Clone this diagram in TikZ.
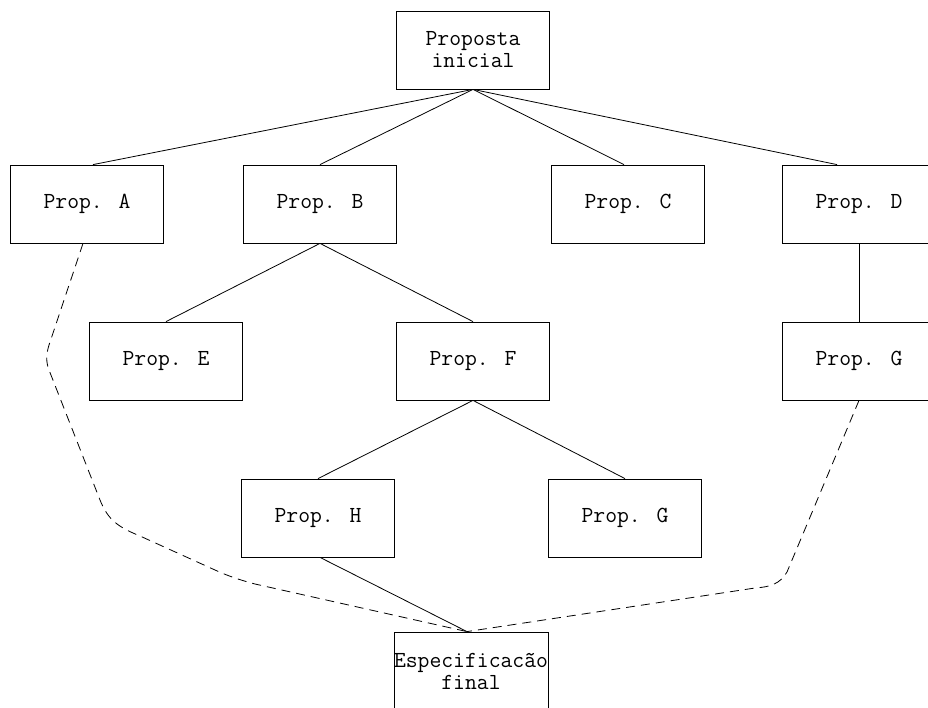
\documentclass[tikz,border=0pt]{standalone}
\usetikzlibrary{calc}
\begin{document}
\begin{tikzpicture}[x=1pt,y=-1pt,
  propbox/.style={draw,line width=0.8pt,minimum width=153pt,minimum height=78pt,
    inner sep=0pt,align=center,font=\ttfamily\fontsize{23}{22}\selectfont},
  link/.style={line width=0.8pt},
  alt/.style={line width=0.8pt,dash pattern=on 9pt off 6pt}]
\useasboundingbox (0,0) rectangle (928,708);
\clip (0,0) rectangle (928,708);
\fill[white] (0,0) rectangle (928,708);

% proposals
\node[propbox] (top) at (473,50) {Proposta\\inicial};
\node[propbox] (A) at (87,204) {Prop. A};
\node[propbox] (B) at (320,204) {Prop. B};
\node[propbox] (C) at (628,204) {Prop. C};
\node[propbox] (D) at (859,204) {Prop. D};
\node[propbox] (E) at (166,361) {Prop. E};
\node[propbox] (F) at (473,361) {Prop. F};
\node[propbox] (G1) at (859,361) {Prop. G};
\node[propbox] (H) at (318,518) {Prop. H};
\node[propbox] (G2) at (625,518) {Prop. G};
\node[propbox] (S) at (471,671) {Especificacão\\final};

% derivation tree
\draw[link] (top.south) -- ([xshift=6pt]A.north);
\draw[link] (top.south) -- (B.north);
\draw[link] (top.south) -- ([xshift=-4pt]C.north);
\draw[link] (top.south) -- ([xshift=-22pt]D.north);
\draw[link] (B.south) -- (E.north);
\draw[link] (B.south) -- (F.north);
\draw[link] (F.south) -- (H.north);
\draw[link] (F.south) -- (G2.north);
\draw[link] (D.south) -- (G1.north);
\draw[link] ([xshift=2pt]H.south) -- ([xshift=-4pt]S.north);

% paths leading to the final specification
\draw[alt] ([xshift=-4pt]A.south) -- (49,345) .. controls (46,355) and (46,362) .. (49,370)
  -- (100,500)
  .. controls (108,520) and (118,527) .. (140,536) -- (215,570)
  .. controls (228,576) and (240,580) .. (255,584) -- ([xshift=-4pt]S.north);
\draw[alt] (G1.south) -- (787,572)
  .. controls (780,584) and (770,587) .. (755,588) -- ([xshift=-4pt]S.north);
\end{tikzpicture}
\end{document}
